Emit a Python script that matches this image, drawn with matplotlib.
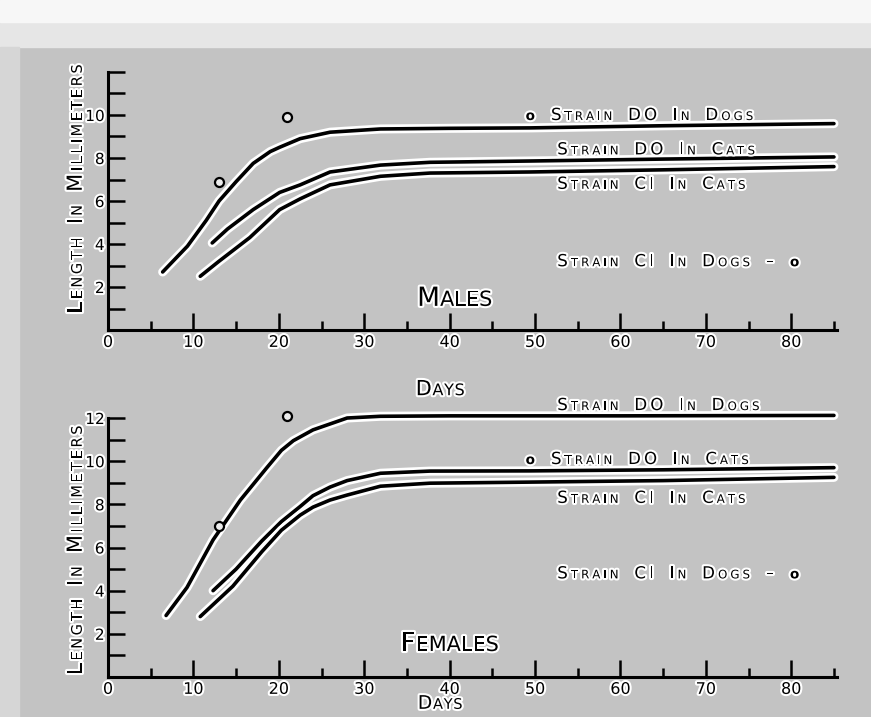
import matplotlib
matplotlib.use('Agg')
import matplotlib.pyplot as plt
import matplotlib.patheffects as pe
from matplotlib import font_manager
from matplotlib.offsetbox import TextArea, HPacker, DrawingArea, AnnotationBbox
from matplotlib.patches import Rectangle
from matplotlib.transforms import offset_copy

# ---- males: days vs length (mm)
m_do_dogs_x = [6.4, 9.3, 11.5, 13, 15, 17, 19, 20.1, 22.5, 26, 31.9, 40, 49.4, 65, 85]
m_do_dogs_y = [2.7, 3.9, 5.1, 6.0, 6.9, 7.75, 8.3, 8.5, 8.9, 9.2, 9.35, 9.38, 9.4, 9.5, 9.6]
m_do_cats_x = [12.2, 14, 17, 20.1, 22.5, 26, 31.9, 37.7, 49.4, 65, 85]
m_do_cats_y = [4.05, 4.7, 5.6, 6.4, 6.75, 7.35, 7.67, 7.8, 7.86, 7.95, 8.05]
m_ci_cats_x = [10.8, 13, 16.6, 20.1, 22.5, 26, 31.9, 37.7, 49.4, 65, 85]
m_ci_cats_y = [2.5, 3.2, 4.3, 5.6, 6.1, 6.75, 7.15, 7.3, 7.35, 7.45, 7.6]
m_pts_x = [13, 21]
m_pts_y = [6.9, 9.9]

# ---- females
f_do_dogs_x = [6.8, 9.25, 12.3, 15.5, 18.6, 20.3, 21.7, 24, 28, 31.9, 40, 60, 85]
f_do_dogs_y = [2.85, 4.15, 6.35, 8.2, 9.7, 10.5, 10.95, 11.45, 12.0, 12.08, 12.1, 12.1, 12.12]
f_do_cats_x = [12.3, 15, 18, 20.3, 22.5, 24, 26, 28, 31.9, 37.7, 49.4, 65, 85]
f_do_cats_y = [4.0, 5.0, 6.3, 7.2, 7.9, 8.4, 8.8, 9.1, 9.44, 9.54, 9.55, 9.6, 9.7]
f_ci_cats_x = [10.8, 14.6, 18, 20.3, 22.5, 24, 26, 28, 31.9, 37.7, 49.4, 65, 85]
f_ci_cats_y = [2.8, 4.2, 5.8, 6.8, 7.5, 7.87, 8.2, 8.43, 8.84, 8.98, 9.03, 9.1, 9.25]
f_pts_x = [13, 21]
f_pts_y = [7.0, 12.1]

x_major = [0, 10, 20, 30, 40, 50, 60, 70, 80]
x_minor = [5, 15, 25, 35, 45, 55, 65, 75, 85]
y_ticks = list(range(1, 13))

# upper case = full capital, lower case = small capital, '@' = the circle key
m_labels = ['@ Strain DO In Dogs', 'Strain DO In Cats', 'Strain CI In Cats', 'Strain CI In Dogs \u2013 @']
f_labels = ['Strain DO In Dogs', '@ Strain DO In Cats', 'Strain CI In Cats', 'Strain CI In Dogs \u2013 @']
y_title = 'Length In Millimeters'
x_title = 'Days'

installed = {f.name for f in font_manager.fontManager.ttflist}
LETTER = 'Liberation Sans Narrow' if 'Liberation Sans Narrow' in installed else 'DejaVu Sans'

halo = [pe.withStroke(linewidth=3, foreground='white')]
line_halo = [pe.Stroke(linewidth=6.5, foreground='white'), pe.Normal()]


def letters(text, big, small):
    out = []
    for ch in text:
        if ch == ' ':
            out.append((' ', None, 'normal'))
        elif ch == '@':
            out.append(('o', small * 1.15, 'bold'))
        elif ch.islower():
            out.append((ch.upper(), small, 'normal'))
        else:
            out.append((ch, big, 'normal'))
    return out


def put(ax, text, x, y, big, small, sep=2.0, gap=5, align=(0, 0.5)):
    kids = []
    for ch, size, weight in letters(text, big, small):
        if size is None:
            kids.append(DrawingArea(gap, 1))
        else:
            kids.append(TextArea(ch, textprops=dict(fontsize=size, family=LETTER, color='black',
                                                    fontweight=weight, path_effects=halo)))
    box = HPacker(children=kids, align='baseline', pad=0, sep=sep)
    ab = AnnotationBbox(box, (x, y), xycoords='data', frameon=False, box_alignment=align,
                        pad=0, annotation_clip=False)
    ax.add_artist(ab)


def put_vertical(ax, text, x, yc, big, small, sep_px=3, gap_px=8):
    r = fig.canvas.get_renderer()
    parts = letters(text, big, small)
    widths = []
    for ch, size, weight in parts:
        if size is None:
            widths.append(gap_px)
        else:
            tmp = fig.text(0, 0, ch, fontsize=size, family=LETTER)
            widths.append(tmp.get_window_extent(r).width)
            tmp.remove()
    total = sum(widths) + sep_px * (len(widths) - 1)
    pos = -total / 2
    for (ch, size, weight), w in zip(parts, widths):
        if size is not None:
            tr = offset_copy(ax.transAxes, fig=fig, x=0, y=pos, units='dots')
            ax.text(x, yc, ch, transform=tr, rotation=90, rotation_mode='anchor',
                    ha='left', va='baseline', fontsize=size, family=LETTER,
                    path_effects=halo, clip_on=False)
        pos += w + sep_px


def setup(ax, top_label):
    ax.set_xlim(0, 85.3)
    ax.set_ylim(0, 12)
    ax.set_facecolor('none')
    ax.spines['top'].set_visible(False)
    ax.spines['right'].set_visible(False)
    for s in ['left', 'bottom']:
        ax.spines[s].set_linewidth(2.2)
    ax.set_xticks(x_major)
    ax.set_xticks(x_minor, minor=True)
    ax.set_yticks(y_ticks)
    ax.set_yticklabels([str(v) if v % 2 == 0 and v <= top_label else '' for v in y_ticks])
    ax.tick_params(axis='x', which='major', direction='in', length=12, width=1.8, pad=3.5, labelsize=11.5)
    ax.tick_params(axis='x', which='minor', direction='in', length=6.5, width=1.8)
    ax.tick_params(axis='y', direction='in', length=12, width=1.8, pad=2.5, labelsize=11)
    for lab in ax.get_xticklabels() + ax.get_yticklabels():
        lab.set_family(LETTER)
        lab.set_path_effects(halo)


fig = plt.figure(figsize=(8.71, 7.17), dpi=100, facecolor='#c3c3c3')
fig.patches.append(Rectangle((0, 0.934), 1, 0.066, transform=fig.transFigure, color='#e6e6e6', zorder=-5))
fig.patches.append(Rectangle((0, 0.97), 1, 0.03, transform=fig.transFigure, color='#f7f7f7', zorder=-5))
fig.patches.append(Rectangle((0, 0), 0.022, 0.934, transform=fig.transFigure, color='#d6d6d6', zorder=-5))

ax1 = fig.add_axes([0.124, 0.5397, 0.8364, 0.3599])
ax2 = fig.add_axes([0.124, 0.0558, 0.8364, 0.3612])

panels = [
    (ax1, [(m_do_dogs_x, m_do_dogs_y), (m_do_cats_x, m_do_cats_y), (m_ci_cats_x, m_ci_cats_y)],
     m_pts_x, m_pts_y, m_labels, [(48.9, 10.0), (52.6, 8.4), (52.6, 6.8), (52.6, 3.2)],
     'Males', (40.6, 1.45), -2.75, 10, 0.547, 15, 11.5),
    (ax2, [(f_do_dogs_x, f_do_dogs_y), (f_do_cats_x, f_do_cats_y), (f_ci_cats_x, f_ci_cats_y)],
     f_pts_x, f_pts_y, f_labels, [(52.6, 12.6), (48.9, 10.1), (52.6, 8.3), (52.6, 4.8)],
     'Females', (40.0, 1.53), -1.22, 12, 0.49, 13.5, 10.5),
]

for ax, curves, px, py, labels, spots, title, tpos, days_y, top_label, ylab_y, dbig, dsmall in panels:
    setup(ax, top_label)
    for cx, cy in curves:
        ax.plot(cx, cy, color='black', lw=2.6, solid_joinstyle='round', solid_capstyle='round',
                path_effects=line_halo, clip_on=False)
    ax.plot(px, py, 'o', ms=6.5, mfc='#ececec', mec='black', mew=1.6, clip_on=False)
    for lab, (lx, ly) in zip(labels, spots):
        put(ax, lab, lx, ly, big=12, small=8.5, sep=2.2, gap=7)
    put(ax, title, tpos[0], tpos[1], big=19, small=15, sep=0, gap=6, align=(0.5, 0.5))
    put(ax, x_title, 38.9, days_y, big=dbig, small=dsmall, sep=0.5, gap=6, align=(0.5, 0.5))
    put_vertical(ax, y_title, -0.036, ylab_y, big=15, small=10.5, sep_px=2.6, gap_px=8)

fig.savefig('out.png', dpi=100, facecolor=fig.get_facecolor())
